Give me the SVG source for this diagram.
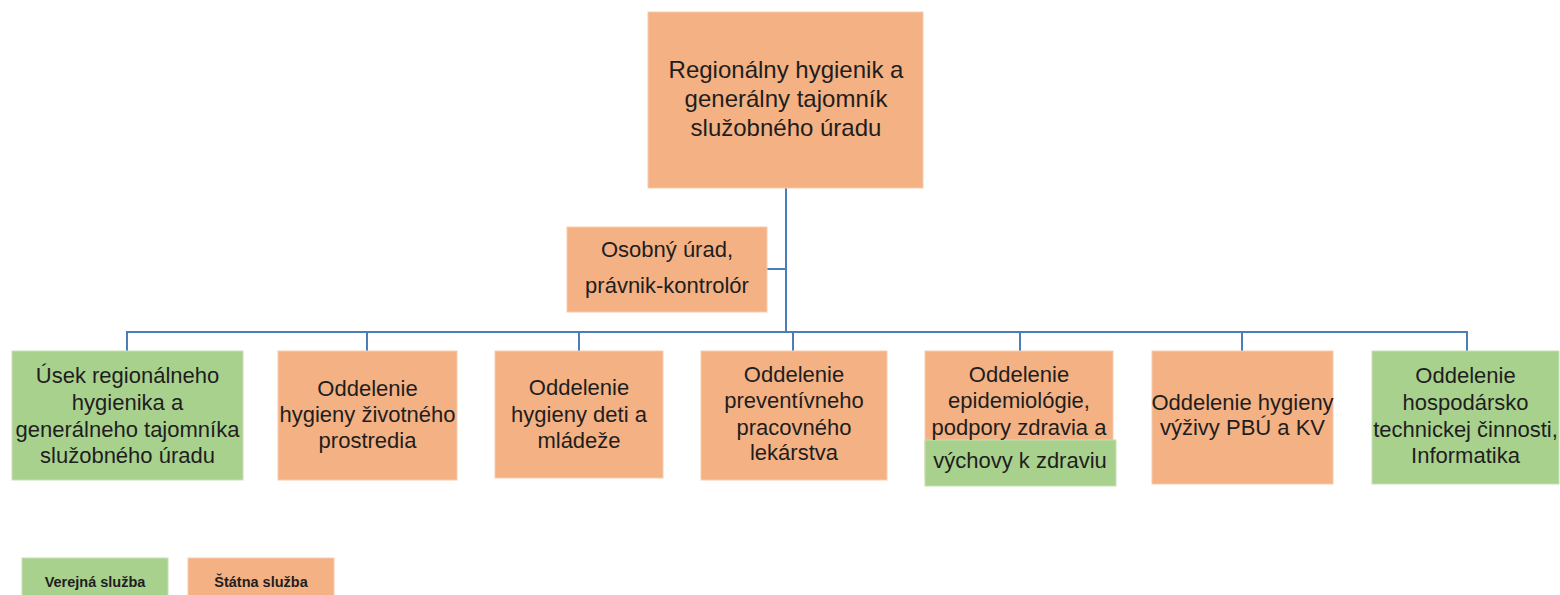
<svg xmlns="http://www.w3.org/2000/svg" width="1560" height="595" viewBox="0 0 1560 595">
  <style>
    .o { fill: #f4b183; stroke: #f8cbad; stroke-width: 1; }
    .g { fill: #a9d18e; stroke: #c5e0b4; stroke-width: 1; }
    text { font-family: "Liberation Sans", Arial, sans-serif; fill: #1e1e1e; text-anchor: middle; }
    .t { font-size: 22px; }
    .top { font-size: 24px; }
    .leg { font-size: 14.5px; font-weight: bold; }
    .c { stroke: #4a7ebb; stroke-width: 2; fill: none; }
  </style>
  <rect width="1560" height="595" fill="#ffffff"/>

  <g id="connectors">
    <line class="c" x1="786" y1="188" x2="786" y2="332"/>
    <line class="c" x1="767" y1="269" x2="786" y2="269"/>
    <polyline class="c" points="127,351 127,332 1467,332 1467,351"/>
    <line class="c" x1="367" y1="332" x2="367" y2="351"/>
    <line class="c" x1="579" y1="332" x2="579" y2="351"/>
    <line class="c" x1="793" y1="332" x2="793" y2="351"/>
    <line class="c" x1="1020" y1="332" x2="1020" y2="351"/>
    <line class="c" x1="1242" y1="332" x2="1242" y2="351"/>
  </g>

  <g id="top">
    <rect class="o" x="648" y="12" width="275" height="176"/>
    <text class="top" x="786" y="78">Regionálny hygienik a</text>
    <text class="top" x="786" y="107">generálny tajomník</text>
    <text class="top" x="786" y="136">služobného úradu</text>
  </g>

  <g id="osobny">
    <rect class="o" x="567" y="227" width="200" height="85"/>
    <text class="t" x="667" y="257">Osobný úrad,</text>
    <text class="t" x="667" y="293">právnik-kontrolór</text>
  </g>

  <g id="usek">
    <rect class="g" x="12" y="351" width="231" height="129"/>
    <text class="t" x="127.5" y="383">Úsek regionálneho</text>
    <text class="t" x="127.5" y="410">hygienika a</text>
    <text class="t" x="127.5" y="437">generálneho tajomníka</text>
    <text class="t" x="127.5" y="463">služobného úradu</text>
  </g>

  <g id="zivotne">
    <rect class="o" x="278" y="351" width="179" height="129"/>
    <text class="t" x="367.5" y="396">Oddelenie</text>
    <text class="t" x="367.5" y="422">hygieny životného</text>
    <text class="t" x="367.5" y="448">prostredia</text>
  </g>

  <g id="deti">
    <rect class="o" x="495" y="351" width="168" height="127"/>
    <text class="t" x="579" y="395">Oddelenie</text>
    <text class="t" x="579" y="422">hygieny deti a</text>
    <text class="t" x="579" y="448">mládeže</text>
  </g>

  <g id="prevent">
    <rect class="o" x="701" y="351" width="186" height="129"/>
    <text class="t" x="794" y="382">Oddelenie</text>
    <text class="t" x="794" y="408">preventívneho</text>
    <text class="t" x="794" y="435">pracovného</text>
    <text class="t" x="794" y="460">lekárstva</text>
  </g>

  <g id="epid">
    <rect class="o" x="925" y="351" width="188" height="127"/>
    <rect class="g" x="925" y="440" width="191" height="46"/>
    <text class="t" x="1019" y="382">Oddelenie</text>
    <text class="t" x="1019" y="408">epidemiológie,</text>
    <text class="t" x="1019" y="435">podpory zdravia a</text>
    <text class="t" x="1020" y="468">výchovy k zdraviu</text>
  </g>

  <g id="vyziva">
    <rect class="o" x="1152" y="351" width="181" height="133"/>
    <text class="t" x="1242.5" y="410">Oddelenie hygieny</text>
    <text class="t" x="1242.5" y="435">výživy PBÚ a KV</text>
  </g>

  <g id="hosp">
    <rect class="g" x="1372" y="351" width="187" height="133"/>
    <text class="t" x="1465.5" y="383">Oddelenie</text>
    <text class="t" x="1465.5" y="410">hospodársko</text>
    <text class="t" x="1465.5" y="437">technickej činnosti,</text>
    <text class="t" x="1465.5" y="463">Informatika</text>
  </g>

  <g id="legend-verejna">
    <rect class="g" x="22" y="558" width="146" height="40"/>
    <text class="leg" x="95" y="587">Verejná služba</text>
  </g>
  <g id="legend-statna">
    <rect class="o" x="188" y="558" width="146" height="40"/>
    <text class="leg" x="261" y="587">Štátna služba</text>
  </g>
</svg>
